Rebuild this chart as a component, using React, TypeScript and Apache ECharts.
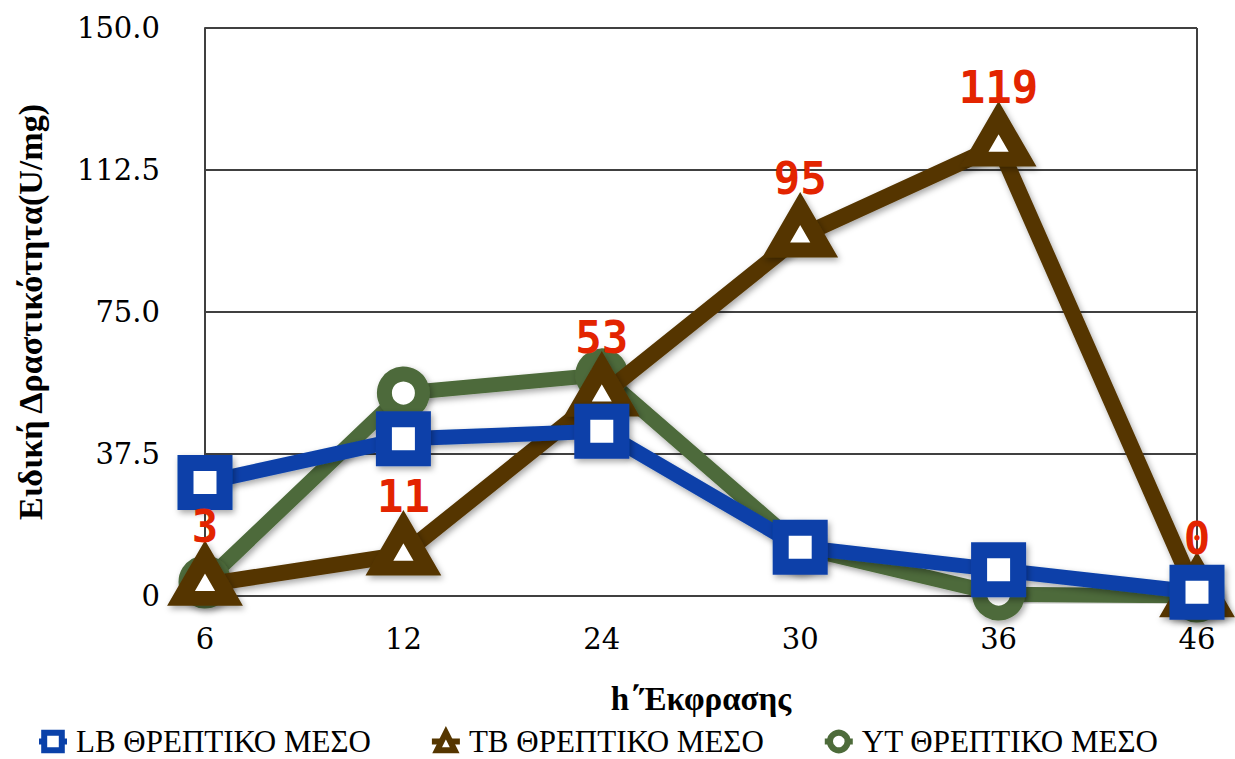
import React, { useEffect, useRef } from "react";
import * as echarts from "echarts";

// Hours of expression (x categories)
const hours = ["6", "12", "24", "30", "36", "46"];

// Specific activity (U/mg) per medium
const lbValues = [30, 41.5, 43.5, 12.9, 6.9, 1];
const tbValues = [3, 11, 53, 95, 119, 0];
const ytValues = [3.7, 53.6, 58.4, 12.9, 0.5, 0];

const yTicks = ["0", "37.5", "75.0", "112.5", "150.0"];

const seriesNames = ["LB ΘΡΕΠΤΙΚΟ ΜΕΣΟ", "TB ΘΡΕΠΤΙΚΟ ΜΕΣΟ", "YT ΘΡΕΠΤΙΚΟ ΜΕΣΟ"];

const BLUE = "#0a41a9";
const BROWN = "#553600";
const GREEN = "#4d6b3a";
const RED = "#e32400";

const shadow = {
  shadowColor: "rgba(0,0,0,0.35)",
  shadowBlur: 6,
  shadowOffsetX: 2,
  shadowOffsetY: 3,
};

const TRIANGLE_SIZE = [48, 41.5];
const TRIANGLE_OFFSET = [0, -7];

const SERIF = "Liberation Serif";

export default function App() {
  const ref = useRef<HTMLDivElement>(null);

  useEffect(() => {
    if (!ref.current) return;
    const chart = echarts.init(ref.current, undefined, { renderer: "svg" });
    chart.setOption({
      animation: false,
      backgroundColor: "#ffffff",
      grid: { left: 205, right: 38, top: 28, bottom: 163 },
      legend: {
        data: seriesNames.map((name) => ({
          name,
          itemStyle: { borderWidth: 6 },
          lineStyle: { width: 6 },
        })),
        left: 36,
        top: 726,
        padding: 0,
        itemWidth: 28,
        itemHeight: 22,
        itemGap: 58,
        formatter: (name: string) => `{s|${name}}`,
        textStyle: {
          fontFamily: SERIF,
          fontSize: 31,
          color: "#000",
          rich: {
            s: {
              fontFamily: SERIF,
              fontSize: 31,
              lineHeight: 32,
              color: "#000",
              padding: [0, 0, 0, 4],
            },
          },
        },
      },
      xAxis: {
        type: "category",
        data: hours,
        boundaryGap: false,
        name: "h΄Έκφρασης",
        nameLocation: "middle",
        nameGap: 86,
        nameTextStyle: {
          fontFamily: SERIF,
          fontWeight: "bold",
          fontSize: 33,
          color: "#000",
        },
        axisLine: { show: true, lineStyle: { color: "#404040", width: 2 } },
        axisTick: { show: false },
        axisLabel: {
          fontFamily: "DejaVu Serif",
          fontSize: 29,
          color: "#000",
          margin: 28,
        },
        splitLine: { show: false },
      },
      yAxis: {
        type: "value",
        min: 0,
        max: 150,
        interval: 37.5,
        name: "Ειδική Δραστικότητα(U/mg)",
        nameLocation: "middle",
        nameGap: 158,
        nameTextStyle: {
          fontFamily: SERIF,
          fontWeight: "bold",
          fontSize: 34,
          color: "#000",
        },
        axisLine: { show: true, lineStyle: { color: "#404040", width: 2 } },
        axisTick: { show: false },
        axisLabel: {
          fontFamily: "DejaVu Serif",
          fontSize: 29,
          color: "#000",
          margin: 45,
          formatter: (v: number) => yTicks[Math.round(v / 37.5)] ?? String(v),
        },
        splitLine: { show: true, lineStyle: { color: "#404040", width: 2 } },
      },
      graphic: [
        // right border of the plot area
        {
          type: "line",
          shape: { x1: 1197, y1: 28, x2: 1197, y2: 596 },
          style: { stroke: "#404040", lineWidth: 2 },
          z: 0,
        },
      ],
      series: [
        {
          name: seriesNames[2],
          type: "line",
          data: ytValues,
          z: 2,
          symbol: "circle",
          symbolSize: 38,
          lineStyle: { color: GREEN, width: 15, ...shadow },
          itemStyle: { color: "#ffffff", borderColor: GREEN, borderWidth: 15, ...shadow },
        },
        {
          name: seriesNames[1],
          type: "line",
          data: tbValues,
          z: 3,
          symbol: "triangle",
          symbolSize: TRIANGLE_SIZE,
          symbolOffset: TRIANGLE_OFFSET,
          lineStyle: { color: BROWN, width: 16, ...shadow },
          itemStyle: { color: "#ffffff", borderColor: BROWN, borderWidth: 16, ...shadow },
        },
        {
          name: seriesNames[0],
          type: "line",
          data: lbValues,
          z: 4,
          symbol: "rect",
          symbolSize: 39,
          lineStyle: { color: BLUE, width: 15, ...shadow },
          itemStyle: { color: "#ffffff", borderColor: BLUE, borderWidth: 16, ...shadow },
        },
        {
          // value labels of the TB medium, kept above every marker
          name: "tb-labels",
          type: "scatter",
          data: tbValues,
          z: 10,
          silent: true,
          symbol: "triangle",
          symbolSize: TRIANGLE_SIZE,
          symbolOffset: TRIANGLE_OFFSET,
          itemStyle: { color: "rgba(0,0,0,0)", opacity: 1 },
          label: {
            show: true,
            position: "top",
            distance: 8,
            fontFamily: "DejaVu Sans Mono",
            fontWeight: "bold",
            fontSize: 44,
            color: RED,
          },
        },
      ],
    });
    return () => chart.dispose();
  }, []);

  return (
    <div
      ref={ref}
      style={{ position: "absolute", left: 0, top: 0, width: 1235, height: 759 }}
    />
  );
}
